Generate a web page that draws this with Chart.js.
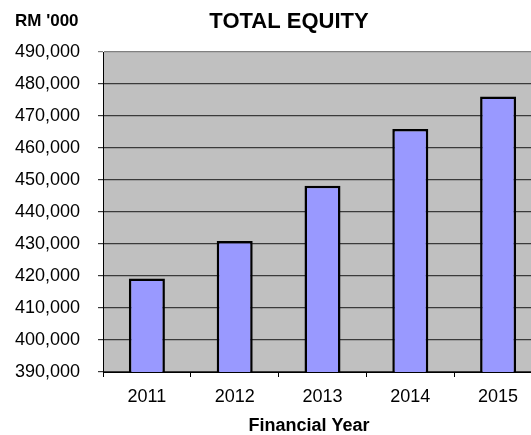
<!DOCTYPE html>
<html>
<head>
<meta charset="utf-8">
<script src="https://cdn.jsdelivr.net/npm/chart.js@4"></script>
<style>
  html, body { margin: 0; padding: 0; background: #fff; overflow: hidden; }
  #wrap { width: 545px; height: 435px; }
</style>
</head>
<body>
<div id="wrap"><canvas id="chart"></canvas></div>
<script>
// chart data
const years = ["2011", "2012", "2013", "2014", "2015"];
const equity = [419200, 430900, 448200, 465900, 476100];
const yMin = 390000;
const yMax = 490000;
const yStep = 10000;

const chartTitle = "TOTAL EQUITY";
const unitLabel = "RM '000";
const xTitle = "Financial Year";

// draws title, unit and axis title as plain text
const textPlugin = {
    id: "texts",
    afterDraw: chart => {
        const ctx = chart.ctx;
        ctx.save();
        ctx.fillStyle = "#000";
        ctx.textBaseline = "middle";
        ctx.font = "bold 22px 'Liberation Sans', Arial, sans-serif";
        ctx.textAlign = "center";
        ctx.fillText(chartTitle, 289, 22);
        ctx.font = "bold 17px 'Liberation Sans', Arial, sans-serif";
        ctx.textAlign = "left";
        ctx.fillText(unitLabel, 15, 21);
        ctx.font = "bold 18px 'Liberation Sans', Arial, sans-serif";
        ctx.textAlign = "center";
        ctx.fillText(xTitle, 309, 426);
        ctx.restore();
    }
};

const ctx = document.getElementById("chart").getContext("2d");
const chart = new Chart(ctx, {
    type: "bar",
    data: {
        labels: years,
        datasets: [{
            data: equity,
            backgroundColor: "#9999FF",
            borderColor: "#000",
            borderWidth: 2.5,
            borderSkipped: false,
            barPercentage: 0.41,
            categoryPercentage: 1
        }]
    },
    options: {
        responsive: true,
        maintainAspectRatio: false,
        animation: false,
        layout: { padding: { top: 52, right: 3, left: 0, bottom: 0 } },
        plugins: {
            legend: { display: false },
            tooltip: { enabled: false }
        },
        scales: {
            x: {
                afterFit: s => { s.height = 63; },
                grid: {
                    display: true,
                    drawOnChartArea: false,
                    offset: true,
                    tickLength: 5,
                    color: "#000"
                },
                border: { color: "#000", width: 1 },
                ticks: {
                    color: "#000",
                    padding: 9,
                    maxRotation: 0,
                    font: { family: "'Liberation Sans', Arial, sans-serif", size: 18 }
                }
            },
            y: {
                min: yMin,
                max: yMax,
                afterFit: s => { s.width = 103; },
                grid: {
                    tickLength: 5,
                    lineWidth: 1.2,
                    color: c => c.tick && c.tick.value === yMax ? "#808080" : "#3a3a3a"
                },
                border: { color: "#000", width: 1 },
                ticks: {
                    stepSize: yStep,
                    color: "#000",
                    padding: 18,
                    font: { family: "'Liberation Sans', Arial, sans-serif", size: 18 },
                    callback: v => v.toLocaleString("en-US")
                }
            }
        }
    },
    plugins: [textPlugin, {
        id: "plotBg",
        beforeDraw: c => {
            const a = c.chartArea;
            c.ctx.save();
            c.ctx.fillStyle = "#C0C0C0";
            c.ctx.fillRect(a.left, a.top, a.right - a.left, a.bottom - a.top);
            c.ctx.restore();
        }
    }]
});
</script>
</body>
</html>
